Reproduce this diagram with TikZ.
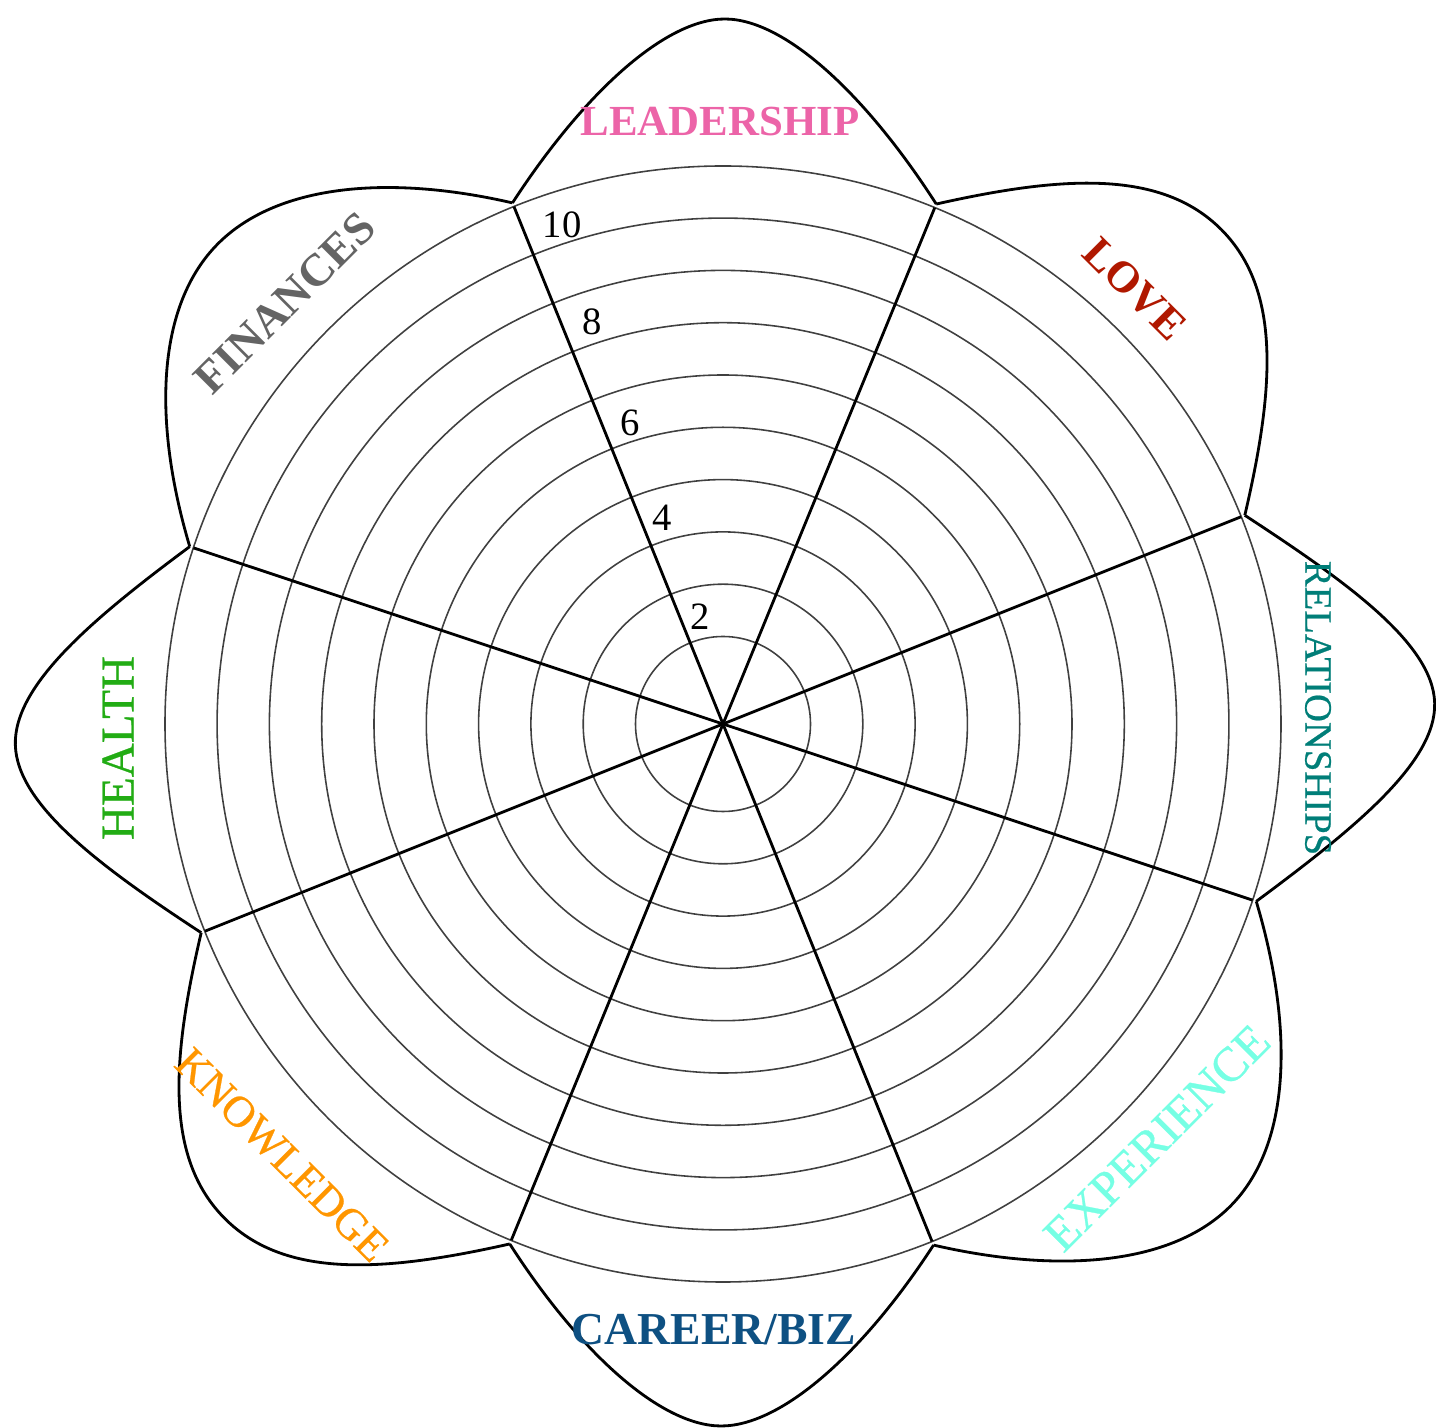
\documentclass[tikz,border=0pt]{standalone}
\usepackage{fontspec}
\setmainfont{Liberation Serif}
\newfontfamily\labelfont[FakeBold=0.6]{Liberation Serif}
\usepackage{tikz}

\definecolor{leadpink}{RGB}{236,100,168}
\definecolor{lovered}{RGB}{176,24,0}
\definecolor{relteal}{RGB}{0,126,120}
\definecolor{expaqua}{RGB}{118,255,228}
\definecolor{careerblue}{RGB}{14,80,130}
\definecolor{knoworange}{RGB}{255,150,0}
\definecolor{healthgreen}{RGB}{34,172,20}
\definecolor{fingray}{RGB}{100,100,100}

\begin{document}
\begin{tikzpicture}
			\tikzstyle{every node}+=[inner sep=0pt]
			\tikzstyle{ring}=[black!75, line width=0.45pt]
			\tikzstyle{spoke}=[black, line width=0.8pt]
			\tikzstyle{petal}=[black, line width=0.8pt]
			\tikzstyle{score}=[font=\fontsize{11}{12}\selectfont]
			\useasboundingbox (-7.23,-7.03) rectangle (7.13,7.24);
			\coordinate (c) at (0,0);
			% rings
			\draw [ring] (c) circle (0.875);
			\draw [ring] (c) circle (1.398);
			\draw [ring] (c) circle (1.921);
			\draw [ring] (c) circle (2.444);
			\draw [ring] (c) circle (2.967);
			\draw [ring] (c) circle (3.490);
			\draw [ring] (c) circle (4.013);
			\draw [ring] (c) circle (4.536);
			\draw [ring] (c) circle (5.059);
			\draw [ring] (c) circle (5.580);
			% spoke ends
			\coordinate (s1) at (112:5.58);
			\coordinate (s2) at (67.7:5.58);
			\coordinate (s3) at (21.8:5.58);
			\coordinate (s4) at (-18.4:5.58);
			\coordinate (s5) at (-68:5.58);
			\coordinate (s6) at (-112.3:5.58);
			\coordinate (s7) at (-158.2:5.58);
			\coordinate (s8) at (161.6:5.58);
			\draw [spoke] (s1) -- (s5);
			\draw [spoke] (s2) -- (s6);
			\draw [spoke] (s3) -- (s7);
			\draw [spoke] (s4) -- (s8);
			% petals
			\draw [petal] (112:5.62) to[out=57,in=180,out distance=1.3cm,in distance=0.6cm] (89.85:7.05)
				to[out=0,in=122.7,out distance=0.6cm,in distance=1.3cm] (67.7:5.62);
			\draw [petal] (67.7:5.62) to[out=12.7,in=134.75,out distance=1.3cm,in distance=0.85cm] (44.75:7.02)
				to[out=-45.25,in=76.8,out distance=0.85cm,in distance=1.3cm] (21.8:5.62);
			\draw [petal] (21.8:5.62) to[out=-33.2,in=91.7,out distance=1.2cm,in distance=0.6cm] (1.7:7.12)
				to[out=-88.3,in=36.6,out distance=0.6cm,in distance=1.2cm] (-18.4:5.62);
			\draw [petal] (-18.4:5.62) to[out=-73.4,in=46.8,out distance=1.3cm,in distance=0.85cm] (-43.2:7.0)
				to[out=-133.2,in=-13,out distance=0.85cm,in distance=1.3cm] (-68:5.62);
			\draw [petal] (-68:5.62) to[out=-123,in=0,out distance=1.3cm,in distance=0.6cm] (-90.15:7.02)
				to[out=180,in=-57.3,out distance=0.6cm,in distance=1.3cm] (-112.3:5.62);
			\draw [petal] (-112.3:5.62) to[out=-167.3,in=-45.25,out distance=1.3cm,in distance=0.85cm] (-135.25:7.02)
				to[out=134.75,in=-103.2,out distance=0.85cm,in distance=1.3cm] (-158.2:5.62);
			\draw [petal] (-158.2:5.62) to[out=146.8,in=-88.3,out distance=1.2cm,in distance=0.6cm] (181.7:7.08)
				to[out=91.7,in=-143.4,out distance=0.6cm,in distance=1.2cm] (161.6:5.62);
			\draw [petal] (161.6:5.62) to[out=106.6,in=226.8,out distance=1.3cm,in distance=0.85cm] (136.8:6.97)
				to[out=46.8,in=167,out distance=0.85cm,in distance=1.3cm] (112:5.62);
			% scale numbers
			\node [score] (n2) at (-0.23,1.07) {2};
			\node [score] (n4) at (-0.61,2.06) {4};
			\node [score] (n6) at (-0.93,3.01) {6};
			\node [score] (n8) at (-1.31,4.02) {8};
			\node [score] (n10) at (-1.61,4.99) {10};
			% areas
			\node [leadpink, font=\fontsize{12.2}{14}\selectfont\bfseries] (lead) at (-0.03,6.02) {LEADERSHIP};
			\node [lovered, rotate=-45, font=\fontsize{12.5}{14}\selectfont\bfseries] (love) at (4.12,4.35) {LOVE};
			\node [relteal, rotate=-90, font=\fontsize{11}{12}\selectfont\labelfont] (rel) at (5.95,0.16) {RELATIONSHIPS};
			\node [expaqua, rotate=45, font=\fontsize{13.8}{15}\selectfont\labelfont] (exp) at (4.34,-4.14) {EXPERIENCE};
			\node [careerblue, font=\fontsize{13}{15}\selectfont\bfseries] (career) at (-0.09,-6.06) {CAREER/BIZ};
			\node [knoworange, rotate=-45, font=\fontsize{12.5}{14}\selectfont\labelfont] (know) at (-4.41,-4.31) {KNOWLEDGE};
			\node [healthgreen, rotate=90, font=\fontsize{13.4}{15}\selectfont\labelfont] (health) at (-6.05,-0.24) {HEALTH};
			\node [fingray, rotate=45, font=\fontsize{13}{15}\selectfont\bfseries] (fin) at (-4.38,4.21) {FINANCES};
\end{tikzpicture}
\end{document}
